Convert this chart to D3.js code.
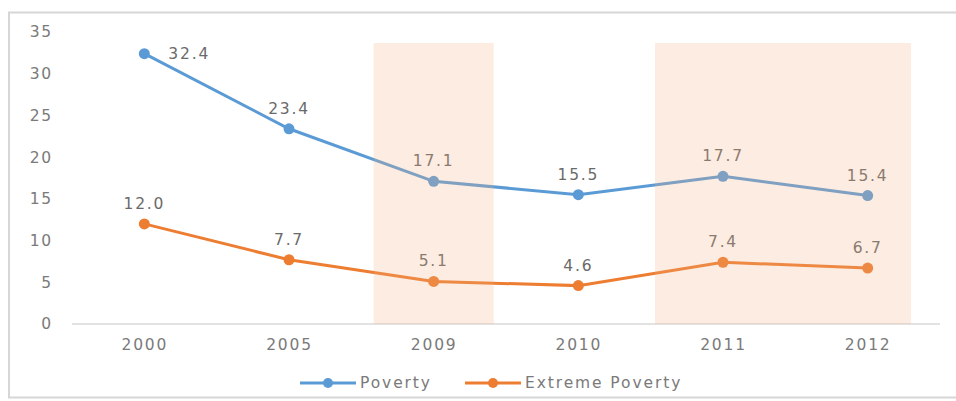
<!DOCTYPE html>
<html>
<head>
<meta charset="utf-8">
<script src="https://cdn.jsdelivr.net/npm/d3@7"></script>
<style>
  body { margin: 0; background: #fff; }
  svg { display: block; font-family: "DejaVu Sans", sans-serif; }
</style>
</head>
<body>
<div id="chart"></div>
<script>
// data
const years = ["2000", "2005", "2009", "2010", "2011", "2012"]
const poverty = [32.4, 23.4, 17.1, 15.5, 17.7, 15.4]
const extremePoverty = [12.0, 7.7, 5.1, 4.6, 7.4, 6.7]
const yTicks = [0, 5, 10, 15, 20, 25, 30, 35]
const highlights = [["2009", "2009"], ["2011", "2012"]]   // shaded periods

const seriesList = [
    {name: "Poverty", values: poverty, color: "#5b9bd5"},
    {name: "Extreme Poverty", values: extremePoverty, color: "#ed7d31"}
]

const width = 956
const height = 401
const marginLeft = 72
const marginRight = 16
const marginTop = 32
const marginBottom = 77

const svg = d3.select("#chart").append("svg")
    .attr("width", width)
    .attr("height", height)

// frame
svg.append("rect")
    .attr("x", 9).attr("y", 12.5)
    .attr("width", 960).attr("height", 385)
    .attr("fill", "none")
    .attr("stroke", "#d6d6d6")
    .attr("stroke-width", 2)

const x = d3.scalePoint(years, [marginLeft, width - marginRight]).padding(0.5)
const y = d3.scaleLinear([0, 35], [height - marginBottom, marginTop])
const step = x.step()

// y axis labels
svg.append("g")
    .attr("transform", `translate(${marginLeft - 19},0)`)
    .call(d3.axisLeft(y).tickValues(yTicks).tickSize(0).tickPadding(0))
    .call(g => g.select(".domain").remove())
    .call(g => g.selectAll("text")
        .attr("font-family", "DejaVu Sans, sans-serif")
        .attr("font-size", 15.5)
        .attr("letter-spacing", 1.8)
        .attr("fill", "#7a7a7a"))

// x axis
svg.append("g")
    .attr("transform", `translate(0,${y(0)})`)
    .call(d3.axisBottom(x).tickSize(0).tickPadding(15))
    .call(g => g.select(".domain")
        .attr("stroke", "#d9d9d9")
        .attr("stroke-width", 1.5)
        .attr("d", `M${x(years[0]) - step / 2},0H${x(years[years.length - 1]) + step / 2}`))
    .call(g => g.selectAll("text")
        .attr("font-family", "DejaVu Sans, sans-serif")
        .attr("font-size", 15.5)
        .attr("letter-spacing", 1.8)
        .attr("fill", "#7a7a7a"))

const line = d3.line()
    .x((d, i) => x(years[i]))
    .y(d => y(d))

seriesList.forEach(s => {
    svg.append("path")
        .datum(s.values)
        .attr("fill", "none")
        .attr("stroke", s.color)
        .attr("stroke-width", 3)
        .attr("d", line)

    svg.append("g")
        .selectAll("circle")
        .data(s.values)
        .join("circle")
        .attr("cx", (d, i) => x(years[i]))
        .attr("cy", d => y(d))
        .attr("r", 5.5)
        .attr("fill", s.color)

    svg.append("g")
        .attr("font-size", 15.5)
        .attr("letter-spacing", 1.8)
        .attr("fill", "#6a6a6a")
        .selectAll("text")
        .data(s.values)
        .join("text")
        .attr("x", (d, i) => (i === 0 && s.name === "Poverty") ? x(years[i]) + 24 : x(years[i]))
        .attr("y", (d, i) => (i === 0 && s.name === "Poverty") ? y(d) + 5 : y(d) - 15)
        .attr("text-anchor", (d, i) => (i === 0 && s.name === "Poverty") ? "start" : "middle")
        .text(d => d.toFixed(1))
})

// shaded periods drawn over the lines, semi transparent
svg.append("g")
    .selectAll("rect")
    .data(highlights)
    .join("rect")
    .attr("x", d => x(d[0]) - (d[0] === d[1] ? 0.415 : 0.47) * step)
    .attr("y", y(35) + 11)
    .attr("width", d => x(d[1]) - x(d[0]) + (d[0] === d[1] ? 0.83 : 0.77) * step)
    .attr("height", y(0) - y(35) - 11)
    .attr("fill", "#f4b183")
    .attr("fill-opacity", 0.24)

// legend
const legend = svg.append("g")
    .attr("transform", `translate(300,${height - 18})`)

const legendX = [0, 165]
seriesList.forEach((s, i) => {
    const g = legend.append("g").attr("transform", `translate(${legendX[i]},0)`)
    g.append("line")
        .attr("x1", 0).attr("x2", 56)
        .attr("stroke", s.color)
        .attr("stroke-width", 3)
    g.append("circle")
        .attr("cx", 28).attr("r", 5)
        .attr("fill", s.color)
    g.append("text")
        .attr("x", 60)
        .attr("dy", "0.35em")
        .attr("font-size", 15.5)
        .attr("letter-spacing", 1.9)
        .attr("fill", "#7a7a7a")
        .text(s.name)
})
</script>
</body>
</html>
